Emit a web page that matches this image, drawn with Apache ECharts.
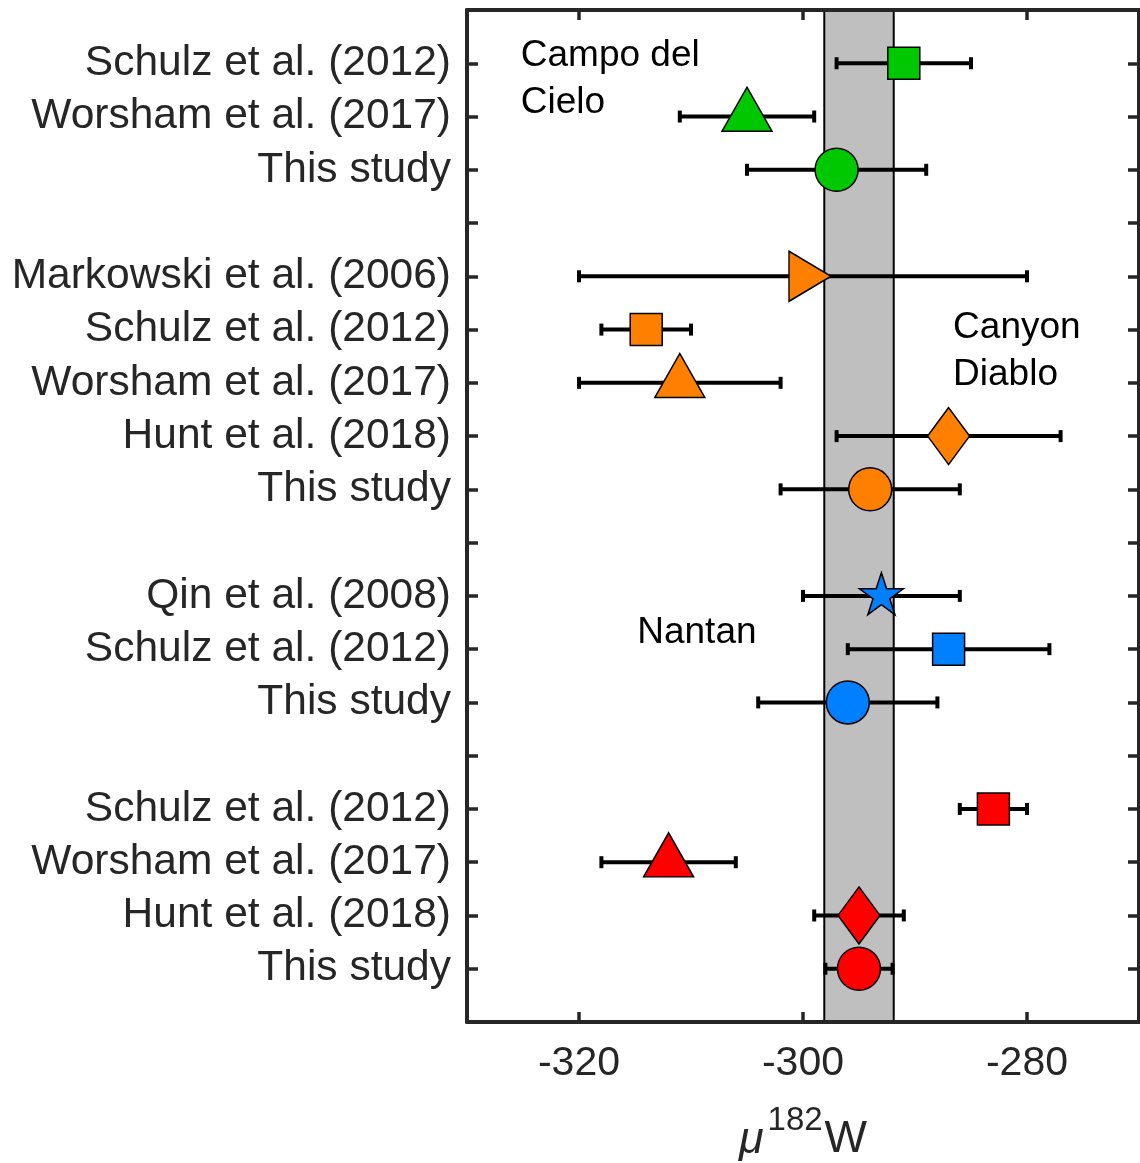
<!DOCTYPE html>
<html>
<head>
<meta charset="utf-8">
<script src="https://cdn.jsdelivr.net/npm/echarts@6/dist/echarts.min.js"></script>
<style>
html,body{margin:0;padding:0;background:#fff;}
#chart{width:1140px;height:1163px;}
</style>
</head>
<body>
<div id="chart"></div>
<script>
// ---- data ----
const rowLabels = ['Schulz et al. (2012)','Worsham et al. (2017)','This study','',
  'Markowski et al. (2006)','Schulz et al. (2012)','Worsham et al. (2017)','Hunt et al. (2018)','This study','',
  'Qin et al. (2008)','Schulz et al. (2012)','This study','',
  'Schulz et al. (2012)','Worsham et al. (2017)','Hunt et al. (2018)','This study'];
const muValues  = [-291, -305, -297, null, -300, -314, -311, -287, -294, null, -293, -287, -296, null, -283, -312, -295, -295];
const errValues = [6, 6, 8, null, 20, 4, 9, 10, 8, null, 7, 9, 8, null, 3, 6, 4, 3];
const markerShapes = ['square','triangle','circle',null,'rtriangle','square','triangle','diamond','circle',null,
  'star','square','circle',null,'square','triangle','diamond','circle'];
const rowGroups = ['Campo del Cielo','Campo del Cielo','Campo del Cielo',null,
  'Canyon Diablo','Canyon Diablo','Canyon Diablo','Canyon Diablo','Canyon Diablo',null,
  'Nantan','Nantan','Nantan',null,'Group 4','Group 4','Group 4','Group 4'];
const bandRange = [-298.1, -291.9];
const xTickValues = [-320, -300, -280];
const groupAnnotations = ['Campo del\nCielo', 'Canyon\nDiablo', 'Nantan'];

// ---- styles ----
const FONT = "'Liberation Sans', Arial, Helvetica, sans-serif";
const AXIS_COLOR = '#262626';
const groupColors = {'Campo del Cielo':'#00c800','Canyon Diablo':'#ff8000','Nantan':'#0080ff','Group 4':'#ff0000'};
function starPath(){
  let d='';
  for(let i=0;i<10;i++){
    const r = i%2===0 ? 1 : 0.382;
    const a = -Math.PI/2 + i*Math.PI/5;
    d += (i===0?'M':'L') + (r*Math.cos(a)).toFixed(4) + ',' + (r*Math.sin(a)).toFixed(4) + ' ';
  }
  return 'path://' + d + 'Z';
}
const markerStyles = {
  square:   {symbol:'rect', symbolSize:[32,32], symbolOffset:[0,0]},
  circle:   {symbol:'circle', symbolSize:[43,43], symbolOffset:[0,0]},
  triangle: {symbol:'triangle', symbolSize:[50,44], symbolOffset:[0,-7.3]},
  rtriangle:{symbol:'path://M0,0 L1,0.5 L0,1 Z', symbolSize:[42,50], symbolOffset:[7,0], symbolKeepAspect:false},
  diamond:  {symbol:'diamond', symbolSize:[42,57], symbolOffset:[0,0]},
  star:     {symbol:starPath(), symbolSize:[44,42], symbolOffset:[0,-2.2], symbolKeepAspect:false}
};

// ---- build series data ----
const rowY = rowLabels.map((_, i) => i + 1);
const errData = [];
const markerData = [];
rowY.forEach((y, i) => {
  if (muValues[i] == null) return;
  errData.push([muValues[i], y, errValues[i]]);
  const st = markerStyles[markerShapes[i]];
  markerData.push(Object.assign({
    value: [muValues[i], y],
    itemStyle: {color: groupColors[rowGroups[i]], borderColor:'#000', borderWidth:1.5, opacity: 1}
  }, st));
});
const labelValues = rowY.filter((y, i) => rowLabels[i] !== '');

const chart = echarts.init(document.getElementById('chart'), null, {renderer:'canvas'});
const option = {
  animation: false,
  backgroundColor: '#fff',
  grid: {left: 467, right: 1, top: 10, bottom: 141, containLabel: false, outerBoundsMode: 'none'},
  xAxis: [{
    type: 'value', min: -330, max: -270, position: 'bottom', z: 3,
    axisLine: {show: true, onZero: false, lineStyle: {color: AXIS_COLOR, width: 4}},
    axisTick: {show: true, inside: true, length: 10, customValues: xTickValues, lineStyle: {color: AXIS_COLOR, width: 3.5}},
    axisLabel: {show: true, customValues: xTickValues, margin: 21, fontSize: 41, color: AXIS_COLOR, fontFamily: FONT},
    splitLine: {show: false},
    name: '{mu|μ}{sup|182}{w|W}',
    nameLocation: 'middle', nameGap: 82,
    nameTextStyle: {
      rich: {
        mu: {fontSize: 45, fontStyle: 'italic', fontFamily: FONT, color: AXIS_COLOR, lineHeight: 72, verticalAlign: 'middle'},
        sup: {fontSize: 33, fontFamily: FONT, color: AXIS_COLOR, verticalAlign: 'top', padding: [0, 2, 0, 4]},
        w: {fontSize: 45, fontFamily: FONT, color: AXIS_COLOR, lineHeight: 72, verticalAlign: 'middle'}
      }
    }
  }, {
    type: 'value', min: -330, max: -270, position: 'top', z: 3,
    axisLine: {show: true, onZero: false, lineStyle: {color: AXIS_COLOR, width: 4}},
    axisTick: {show: true, inside: true, length: 10, customValues: xTickValues, lineStyle: {color: AXIS_COLOR, width: 3.5}},
    axisLabel: {show: false},
    splitLine: {show: false}
  }],
  yAxis: [{
    type: 'value', inverse: true, min: 0, max: 19, position: 'left', z: 3,
    axisLine: {show: true, onZero: false, lineStyle: {color: AXIS_COLOR, width: 4}},
    axisTick: {show: true, inside: true, length: 11, customValues: rowY, lineStyle: {color: AXIS_COLOR, width: 3.5}},
    axisLabel: {show: true, customValues: labelValues, margin: 16, fontSize: 42.5, color: AXIS_COLOR, fontFamily: FONT,
      formatter: v => rowLabels[Math.round(v) - 1] || ''},
    splitLine: {show: false}
  }, {
    type: 'value', inverse: true, min: 0, max: 19, position: 'right', z: 3,
    axisLine: {show: true, onZero: false, lineStyle: {color: AXIS_COLOR, width: 4}},
    axisTick: {show: true, inside: true, length: 11, customValues: rowY, lineStyle: {color: AXIS_COLOR, width: 3.5}},
    axisLabel: {show: false},
    splitLine: {show: false}
  }],
  series: [{
    type: 'custom', name: 'band', z: 1, silent: true,
    data: [bandRange],
    encode: {x: [0, 1]},
    renderItem: function (params, api) {
      const cs = params.coordSys;
      const x0 = api.coord([api.value(0), 0])[0];
      const x1 = api.coord([api.value(1), 0])[0];
      return {type: 'group', children: [
        {type: 'rect', shape: {x: x0, y: cs.y, width: x1 - x0, height: cs.height}, style: {fill: '#bfbfbf'}},
        {type: 'line', shape: {x1: x0, y1: cs.y, x2: x0, y2: cs.y + cs.height}, style: {stroke: '#000', lineWidth: 2}},
        {type: 'line', shape: {x1: x1, y1: cs.y, x2: x1, y2: cs.y + cs.height}, style: {stroke: '#000', lineWidth: 2}}
      ]};
    }
  }, {
    type: 'custom', name: 'error bars', z: 2, silent: true,
    data: errData,
    encode: {x: 0, y: 1},
    renderItem: function (params, api) {
      const m = api.value(0), y = api.value(1), e = api.value(2);
      const p0 = api.coord([m - e, y]);
      const p1 = api.coord([m + e, y]);
      const h = 6;
      const st = {stroke: '#000', lineWidth: 4};
      return {type: 'group', children: [
        {type: 'line', shape: {x1: p0[0], y1: p0[1], x2: p1[0], y2: p1[1]}, style: st},
        {type: 'line', shape: {x1: p0[0], y1: p0[1] - h, x2: p0[0], y2: p0[1] + h}, style: st},
        {type: 'line', shape: {x1: p1[0], y1: p1[1] - h, x2: p1[0], y2: p1[1] + h}, style: st}
      ]};
    }
  }, {
    type: 'scatter', name: 'markers', z: 4,
    itemStyle: {opacity: 1},
    data: markerData
  }, {
    type: 'scatter', name: 'annotations', z: 4, silent: true,
    symbolSize: 0,
    itemStyle: {opacity: 1},
    data: [
      {value: [-325.2, 1.3], label: {formatter: groupAnnotations[0]}},
      {value: [-286.6, 6.4], label: {formatter: groupAnnotations[1]}},
      {value: [-314.8, 11.7], label: {formatter: groupAnnotations[2]}}
    ],
    label: {show: true, position: 'inside', align: 'left', verticalAlign: 'middle',
      fontSize: 37, lineHeight: 47, color: '#000', opacity: 1, fontFamily: FONT}
  }]
};
chart.setOption(option);
</script>
</body>
</html>
